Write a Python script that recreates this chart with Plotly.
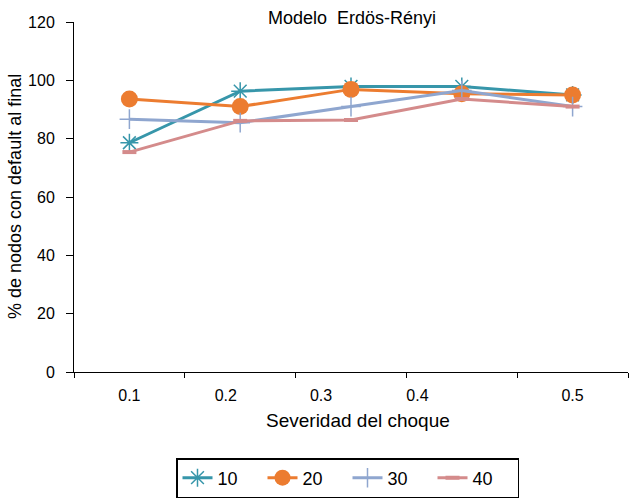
import plotly.graph_objects as go

categories = [0, 1, 2, 3, 4]
tick_labels = ["0.1", "0.2", "0.3", "0.4", "0.5"]
tick_label_pos = [0.0, 0.87, 1.73, 2.6, 4.0]
series_names = ["10", "20", "30", "40"]
s10 = [78.6, 96.3, 97.9, 97.9, 95.0]
s20 = [93.6, 91.0, 96.9, 95.4, 95.0]
s30 = [86.7, 85.5, 91.0, 96.5, 91.0]
s40 = [75.4, 86.1, 86.4, 93.6, 91.0]

colors = ["#3796aa", "#ec7c30", "#8fa6cf", "#d48b8b"]
symbols = ["asterisk-open", "circle", "cross-thin-open", "line-ew-open"]
sizes = [15, 17, 14, 10]

fig = go.Figure()
for name, vals, c, sym, sz in zip(series_names, [s10, s20, s30, s40], colors, symbols, sizes):
    fig.add_trace(go.Scatter(
        x=categories, y=vals, name=name, mode="lines+markers",
        line=dict(color=c, width=3),
        marker=dict(symbol=sym, size=sz, color=c,
                    line=dict(color=c, width=(0 if sym == "circle" else (4 if sym == "line-ew-open" else 1.5)))),
    ))

fig.add_trace(go.Scatter(x=[categories[0]], y=[None], xaxis="x2", showlegend=False, hoverinfo="skip"))

L, R, T, B = 74, 11, 22, 131
W, H = 639, 503
PW, PH = W - L - R, H - T - B

font = "Liberation Sans, Arial, sans-serif"
fig.update_layout(
    width=W, height=H,
    margin=dict(l=L, r=R, t=T, b=B, autoexpand=False),
    paper_bgcolor="white", plot_bgcolor="white",
    font=dict(family=font, color="black", size=16),
    title=dict(text="Modelo\u00a0 Erdös-Rényi", x=352 / W, xref="container", y=1 - 18 / H, yref="container",
               xanchor="center", yanchor="middle", font=dict(size=18, family=font)),
    xaxis=dict(range=[-0.5, 4.5], tickvals=[-0.5, 0.5, 1.5, 2.5, 3.5, 4.5], ticktext=[""] * 6,
               ticks="outside", ticklen=5, tickcolor="black", showline=True, linecolor="black",
               linewidth=1, showgrid=False, zeroline=False, automargin=False),
    xaxis2=dict(overlaying="x", matches="x", side="bottom", range=[-0.5, 4.5],
                tickvals=tick_label_pos, ticktext=tick_labels, ticks="", showline=False,
                showgrid=False, zeroline=False, ticklabelstandoff=12, tickfont=dict(size=16),
                automargin=False),
    yaxis=dict(range=[0, 120], dtick=20, ticks="outside", ticklen=7, tickcolor="black",
               showline=True, linecolor="black", linewidth=1, showgrid=False, zeroline=False,
               ticklabelstandoff=8, automargin=False),
    legend=dict(orientation="h", x=347.5 / W, xref="container", xanchor="center",
                y=1 - 458 / H, yref="container", yanchor="top",
                bordercolor="black", borderwidth=1.5, font=dict(size=18),
                entrywidth=40, itemwidth=30),
    showlegend=True,
    annotations=[
        dict(text="Severidad del choque", xref="paper", yref="paper", x=(358 - L) / PW, y=(372 - 420) / PH,
             xanchor="center", yanchor="middle", showarrow=False, font=dict(size=19)),
        dict(text="% de nodos con default al final", xref="paper", yref="paper", x=(15 - L) / PW,
             y=(372 - 197) / PH, xanchor="center", yanchor="middle", textangle=-90, showarrow=False,
             font=dict(size=18)),
    ],
)
fig.write_html("out.html", config={"displayModeBar": False},
               post_script="document.body.style.margin='0';")
